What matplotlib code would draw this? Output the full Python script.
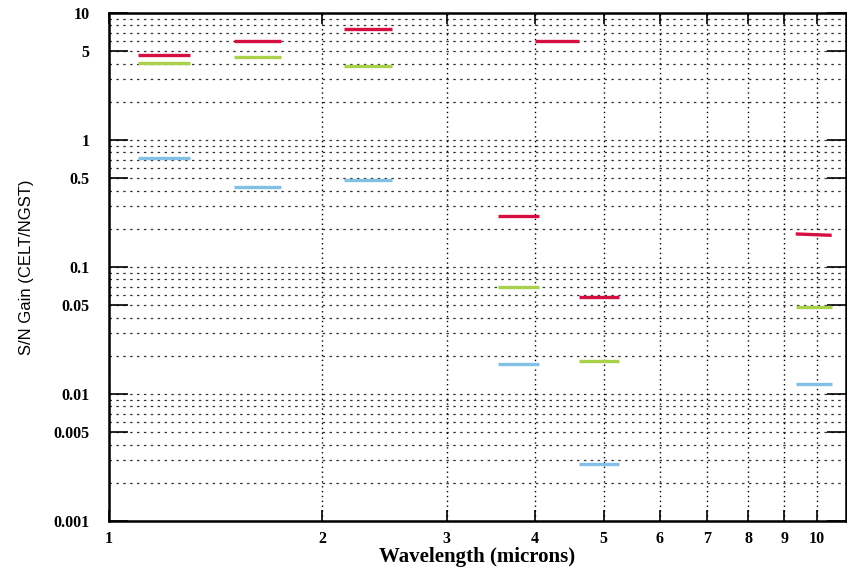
import matplotlib
matplotlib.use("Agg")
import matplotlib.pyplot as plt
from matplotlib.ticker import FixedLocator, NullFormatter, FixedFormatter

# Wavelength bands (microns)
band_start = [1.10, 1.50, 2.15, 3.55, 4.00, 4.61, 9.34]
band_end   = [1.30, 1.75, 2.51, 4.05, 4.61, 5.25, 10.5]

# S/N gain values per band (left / right end of each segment); None = no segment
red_left   = [4.70, 6.05, 7.52, 0.252, 6.05, 0.0581, 0.182]
red_right  = [4.70, 6.05, 7.52, 0.252, 6.05, 0.0581, 0.1775]
green_vals = [4.02, 4.48, 3.83, 0.070, None, 0.0182, 0.0482]
blue_vals  = [0.726, 0.426, 0.482, 0.0171, None, 0.00283, 0.01205]

x_ticks = [1, 2, 3, 4, 5, 6, 7, 8, 9, 10]
x_labels = ["1", "2", "3", "4", "5", "6", "7", "8", "9", "10"]
y_major = [0.001, 0.005, 0.01, 0.05, 0.1, 0.5, 1, 5, 10]
y_labels = ["0.001", "0.005", "0.01", "0.05", "0.1", "0.5", "1", "5", "10"]

RED = "#d50f42"
GREEN = "#a9d14b"
BLUE = "#82c0e6"

fig = plt.figure(figsize=(8.47, 5.69), dpi=100)
ax = fig.add_axes([0.1287, 0.0844, 0.8701, 0.8928])
ax.set_xscale("log")
ax.set_yscale("log")
ax.set_xlim(1, 11)
ax.set_ylim(0.001, 10)

lw = 2.4
for i in range(len(band_start)):
    xs = [band_start[i], band_end[i]]
    ax.plot(xs, [red_left[i], red_right[i]], color=RED, lw=lw, solid_capstyle="butt", zorder=3)
    if green_vals[i] is not None:
        ax.plot(xs, [green_vals[i]] * 2, color=GREEN, lw=lw, solid_capstyle="butt", zorder=3)
    if blue_vals[i] is not None:
        ax.plot(xs, [blue_vals[i]] * 2, color=BLUE, lw=lw, solid_capstyle="butt", zorder=3)

# ticks
ax.xaxis.set_major_locator(FixedLocator(x_ticks))
ax.xaxis.set_major_formatter(FixedFormatter(x_labels))
ax.xaxis.set_minor_locator(FixedLocator([]))
ax.yaxis.set_major_locator(FixedLocator(y_major))
ax.yaxis.set_major_formatter(FixedFormatter(y_labels))
y_minor = []
for d in [0.001, 0.01, 0.1, 1]:
    for m in [2, 3, 4, 6, 7, 8, 9]:
        y_minor.append(d * m)
ax.yaxis.set_minor_locator(FixedLocator(y_minor))
ax.yaxis.set_minor_formatter(NullFormatter())

ax.tick_params(axis="x", which="major", direction="in", length=8, width=1.2,
               top=True, bottom=True, pad=7)
ax.tick_params(axis="y", which="major", direction="in", length=14, width=1.2,
               left=True, right=True, pad=14)
ax.tick_params(axis="y", which="minor", direction="in", length=0, left=False, right=False)

ax.grid(True, which="major", axis="x", color="black", linestyle=(0, (1, 2.5)), linewidth=1.0)
ax.grid(True, which="both", axis="y", color="black", linestyle=(0, (2, 3.5)), linewidth=0.9, alpha=0.8)

for lab in ax.get_xticklabels() + ax.get_yticklabels():
    lab.set_fontfamily(["Liberation Serif", "DejaVu Serif"])
    lab.set_fontweight("bold")
    lab.set_fontsize(11.5)

for s in ax.spines.values():
    s.set_linewidth(1.8)

ax.set_xlabel("Wavelength (microns)", family=["Liberation Serif", "DejaVu Serif"],
              weight="bold", size=15, labelpad=0)
ax.set_ylabel("S/N Gain (CELT/NGST)", family=["Liberation Sans Narrow", "Liberation Sans", "DejaVu Sans"],
              size=12, labelpad=14)

fig.savefig("out.png", dpi=100)
